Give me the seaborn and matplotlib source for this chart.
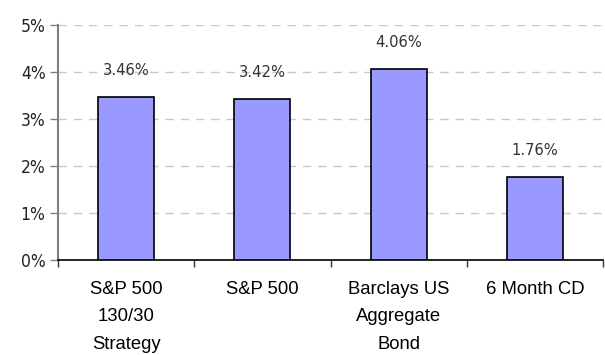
import matplotlib
matplotlib.use("Agg")
import matplotlib.pyplot as plt
import seaborn as sns
import pandas as pd
from matplotlib.ticker import FuncFormatter, FixedLocator

categories = ["S&P 500\n130/30\nStrategy", "S&P 500", "Barclays US\nAggregate\nBond", "6 Month CD"]
values = [3.46, 3.42, 4.06, 1.76]
value_labels = ["3.46%", "3.42%", "4.06%", "1.76%"]
y_ticks = [0, 1, 2, 3, 4, 5]

sns.set_theme(style="white")
plt.rcParams['font.family'] = ['Liberation Sans', 'DejaVu Sans']

df = pd.DataFrame({"cat": categories, "val": values})

fig = plt.figure(figsize=(6.05, 3.55), dpi=100)
ax = fig.add_axes([58/605, 1-260/355, 545/605, 235/355])

sns.barplot(data=df, x="cat", y="val", ax=ax, color="#9999FF", saturation=1,
            width=0.41, edgecolor="black", linewidth=1.2, zorder=3)

ax.set_ylim(0, 5)
ax.set_xlim(-0.5, 3.5)
ax.yaxis.set_major_locator(FixedLocator(y_ticks))
ax.yaxis.set_major_formatter(FuncFormatter(lambda v, p: f"{int(v)}%"))
ax.grid(axis="y", color="#c8c8c8", linestyle=(0, (6, 5)), linewidth=1, zorder=0)
ax.set_axisbelow(True)

for i, (v, lab) in enumerate(zip(values, value_labels)):
    ax.annotate(lab, (i, v), xytext=(0, 16), textcoords="offset points",
                ha="center", va="baseline", fontsize=11.8, color="#333333",
                family="DejaVu Sans", fontstretch="condensed")

ax.set_xlabel("")
ax.set_ylabel("")
for s in ["top", "right"]:
    ax.spines[s].set_visible(False)
ax.spines["left"].set_color("#808080")
ax.spines["left"].set_linewidth(1.5)
ax.spines["bottom"].set_color("black")
ax.spines["bottom"].set_linewidth(1.2)

ax.tick_params(axis="y", which="major", left=True, length=6, width=1, color="#808080",
               labelsize=12.5, pad=3, labelcolor="#222222")
for t in ax.get_yticklabels():
    t.set_family("DejaVu Sans")
    t.set_fontstretch("condensed")
ax.tick_params(axis="x", which="major", bottom=False, length=0, labelsize=13.3, pad=15,
               labelcolor="black")
ax.set_xticks([-0.5, 0.5, 1.5, 2.5, 3.5], minor=True)
ax.tick_params(axis="x", which="minor", bottom=True, length=5, width=1, color="#333333")
for t in ax.get_xticklabels():
    t.set_linespacing(1.82)

fig.savefig("out.png", dpi=100)
